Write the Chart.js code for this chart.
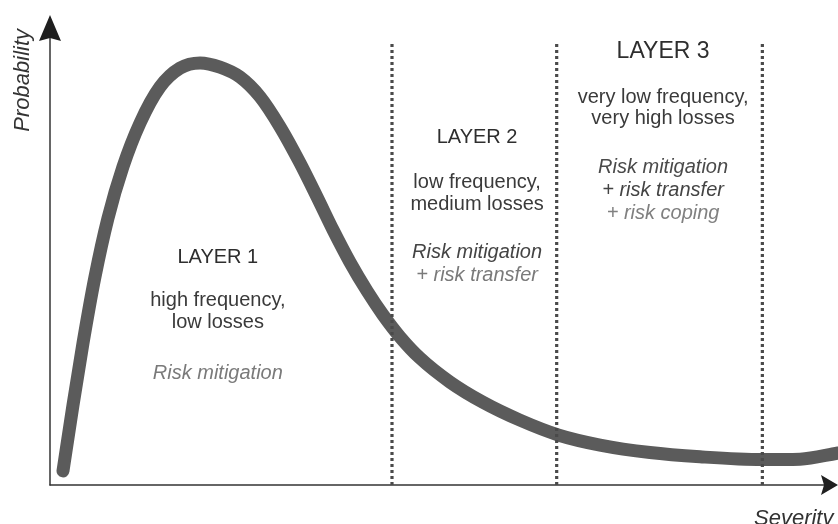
<!DOCTYPE html>
<html>
<head>
<meta charset="utf-8">
<script src="https://cdn.jsdelivr.net/npm/chart.js@4.4.1/dist/chart.umd.min.js"></script>
<style>
  html, body { margin: 0; padding: 0; background: #ffffff; }
  #wrap { position: relative; width: 838px; height: 524px; }
</style>
</head>
<body>
<div id="wrap"><canvas id="c"></canvas></div>
<script>
// ---- data ----
const severity    = [1.65, 2.92, 4.19, 5.71, 7.36, 9.26, 11.42, 13.96, 16.50, 19.04, 21.57, 24.11, 26.65, 29.19, 31.73, 33.88, 35.91, 38.07, 40.23, 42.26, 44.42, 46.95, 50.76, 54.95, 59.64, 64.59, 69.80, 76.14, 82.49, 90.36, 95.18, 100];
const probability = [3.0, 17.0, 30.2, 44.3, 56.8, 67.7, 77.0, 84.7, 88.7, 89.8, 88.9, 86.8, 82.6, 76.2, 68.5, 61.3, 54.3, 47.4, 41.3, 36.2, 31.5, 27.0, 21.9, 17.6, 13.8, 10.6, 8.5, 6.9, 6.0, 5.4, 5.5, 6.8];
const layerBounds = [43.4, 64.3, 90.4];
const boundTop = 94.0;
const layerNames = ['LAYER 1', 'LAYER 2', 'LAYER 3'];
const layerDescriptions = [
  ['high frequency,', 'low losses'],
  ['low frequency,', 'medium losses'],
  ['very low frequency,', 'very high losses']
];
const layerStrategies = [
  ['Risk mitigation'],
  ['Risk mitigation', '+ risk transfer'],
  ['Risk mitigation', '+ risk transfer', '+ risk coping']
];
const yAxisLabel = 'Probability';
const xAxisLabel = 'Severity';

// ---- presentation ----
const FONT = "'Liberation Sans', Arial, Helvetica, sans-serif";
const layerAnchor = [ {x: 21.3, y: 48.5}, {x: 54.2, y: 74.0}, {x: 77.8, y: 92.1} ];
const headingSize = [20, 20, 23];
const strategyColors = [
  ['#7a7a7a'],
  ['#444444', '#7a7a7a'],
  ['#4a4a4a', '#444444', '#808080']
];

const boundaryDatasets = layerBounds.map(b => ({
  data: [{x: b, y: 0}, {x: b, y: boundTop}],
  borderColor: '#4a4a4a',
  borderWidth: 3.2,
  borderDash: [3, 3],
  borderCapStyle: 'butt',
  pointRadius: 0,
  tension: 0,
  order: 1,
  clip: false
}));

const curveDataset = {
  data: severity.map((s, i) => ({x: s, y: probability[i]})),
  borderColor: '#5b5b5b',
  borderWidth: 13,
  borderCapStyle: 'round',
  borderJoinStyle: 'round',
  pointRadius: 0,
  cubicInterpolationMode: 'monotone',
  order: 2,
  clip: false
};

const decor = {
  id: 'decor',
  beforeDatasetsDraw(chart) {
    const ctx = chart.ctx;
    const xs = chart.scales.x, ys = chart.scales.y;
    const x0 = xs.getPixelForValue(0), y0 = ys.getPixelForValue(0);
    const xEnd = xs.getPixelForValue(100), yEnd = ys.getPixelForValue(100);
    ctx.save();
    ctx.strokeStyle = '#333333';
    ctx.fillStyle = '#1f1f1f';
    ctx.lineWidth = 1.5;
    // y axis
    ctx.beginPath();
    ctx.moveTo(x0, y0 + 0.5);
    ctx.lineTo(x0, yEnd + 20);
    ctx.stroke();
    ctx.beginPath();
    ctx.moveTo(x0, yEnd);
    ctx.lineTo(x0 - 11, yEnd + 26);
    ctx.lineTo(x0, yEnd + 23);
    ctx.lineTo(x0 + 11, yEnd + 26);
    ctx.closePath();
    ctx.fill();
    // x axis
    ctx.beginPath();
    ctx.moveTo(x0 - 0.5, y0);
    ctx.lineTo(xEnd - 12, y0);
    ctx.stroke();
    ctx.beginPath();
    ctx.moveTo(xEnd, y0);
    ctx.lineTo(xEnd - 17, y0 - 10);
    ctx.lineTo(xEnd - 14, y0);
    ctx.lineTo(xEnd - 17, y0 + 10);
    ctx.closePath();
    ctx.fill();

    // axis labels
    ctx.fillStyle = '#333333';
    ctx.font = 'italic 22px ' + FONT;
    ctx.save();
    ctx.translate(x0 - 21, ys.getPixelForValue(86.1));
    ctx.rotate(-Math.PI / 2);
    ctx.textAlign = 'center';
    ctx.textBaseline = 'alphabetic';
    ctx.fillText(yAxisLabel, 0, 0);
    ctx.restore();
    ctx.textAlign = 'left';
    ctx.textBaseline = 'alphabetic';
    ctx.fillText(xAxisLabel, 754, 525);

    // layer texts
    const descOffsets = [[43, 65], [45, 67], [45, 66]];
    const stratOffsets = [[116], [115, 138], [115, 138, 161]];
    layerNames.forEach((name, i) => {
      const cx = xs.getPixelForValue(layerAnchor[i].x);
      const cy = ys.getPixelForValue(layerAnchor[i].y);
      ctx.textAlign = 'center';
      ctx.textBaseline = 'middle';
      ctx.fillStyle = '#2e2e2e';
      ctx.font = headingSize[i] + 'px ' + FONT;
      ctx.fillText(name, cx, cy);
      ctx.fillStyle = '#3a3a3a';
      ctx.font = '20px ' + FONT;
      layerDescriptions[i].forEach((t, j) => ctx.fillText(t, cx, cy + descOffsets[i][j]));
      ctx.font = 'italic 20px ' + FONT;
      layerStrategies[i].forEach((t, j) => {
        ctx.fillStyle = strategyColors[i][j];
        ctx.fillText(t, cx, cy + stratOffsets[i][j]);
      });
    });
    ctx.restore();
  }
};

new Chart(document.getElementById('c'), {
  type: 'line',
  data: { datasets: [...boundaryDatasets, curveDataset] },
  options: {
    responsive: true,
    maintainAspectRatio: false,
    animation: false,
    events: [],
    layout: { padding: { left: 50, right: 0, top: 15, bottom: 39 } },
    plugins: { legend: { display: false }, tooltip: { enabled: false } },
    scales: {
      x: { type: 'linear', min: 0, max: 100, display: false },
      y: { type: 'linear', min: 0, max: 100, display: false }
    }
  },
  plugins: [decor]
});
</script>
</body>
</html>
